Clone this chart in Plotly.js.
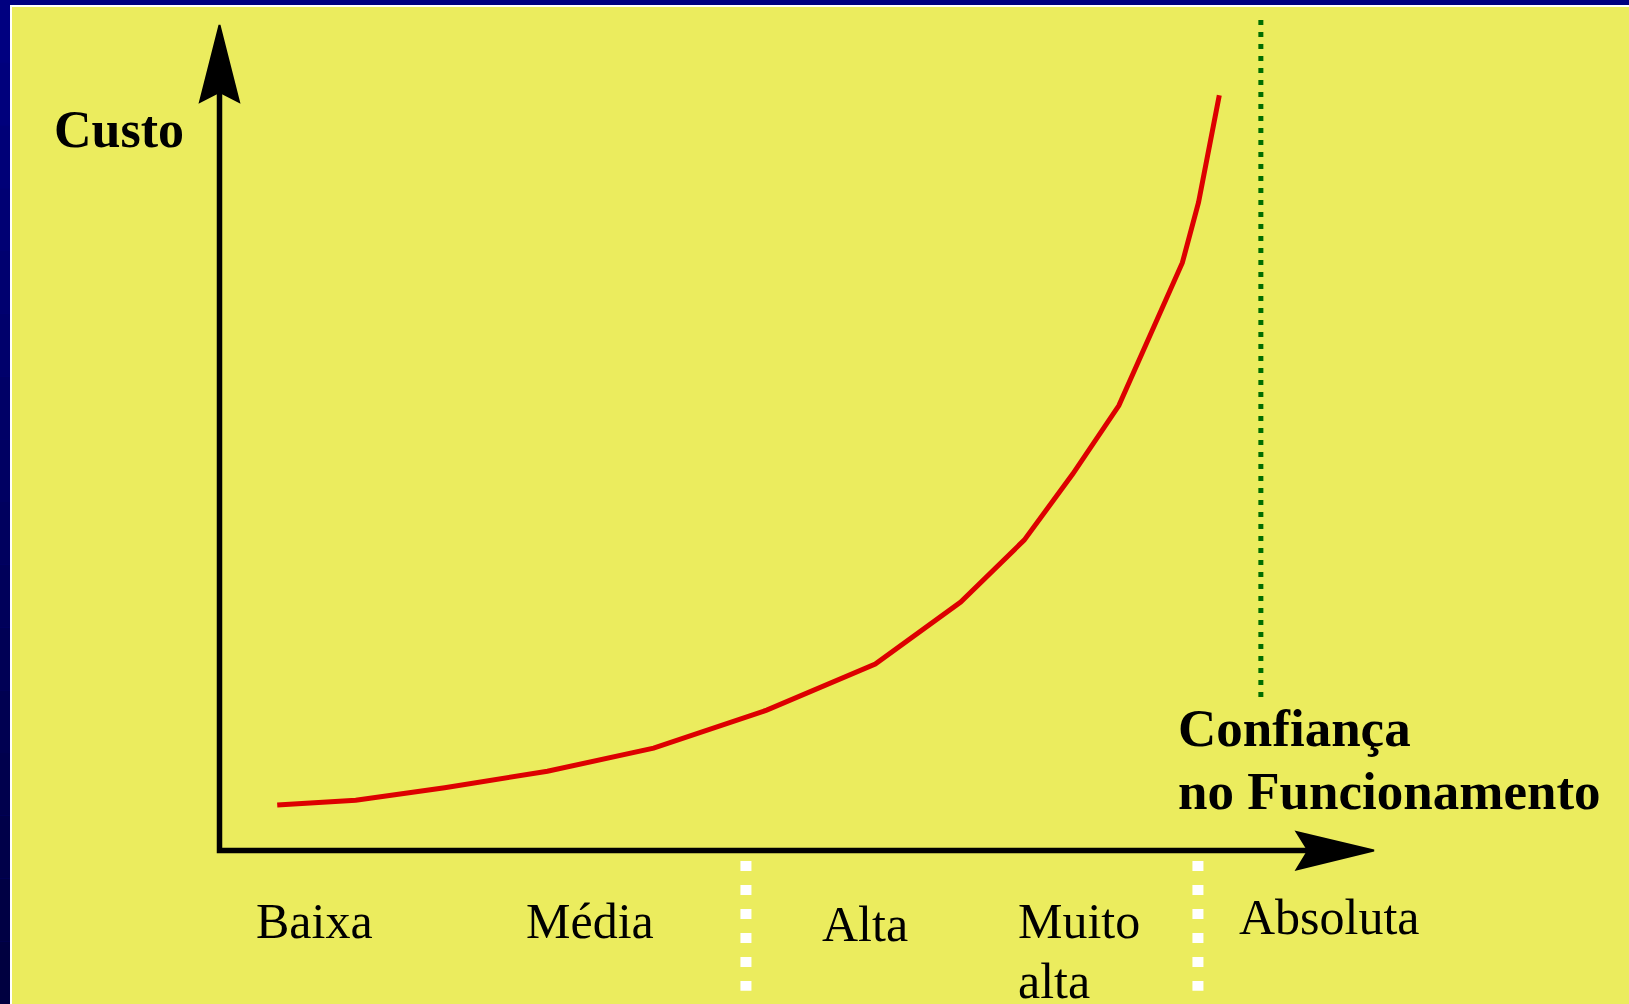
<!DOCTYPE html>
<html>
<head>
<meta charset="utf-8">
<script src="https://cdn.plot.ly/plotly-3.0.1.min.js"></script>
<style>
html,body{margin:0;padding:0;background:#000080;overflow:hidden;}
#chart{width:1629px;height:1004px;}
</style>
</head>
<body>
<div id="chart"></div>
<script>
// ---- data (x: confidence, y: cost; axis origin = 0, arrow tips = 100) ----
const confidence = [5.0, 11.8, 19.5, 28.4, 37.6, 47.4, 56.8, 64.2, 69.7, 73.9, 77.9, 80.7, 83.4, 84.8, 86.6];
const cost       = [5.5, 6.1, 7.6, 9.6, 12.4, 17.0, 22.6, 30.1, 37.6, 45.6, 53.9, 62.7, 71.2, 78.5, 91.5];
const categories = ['Baixa', 'Média', 'Alta', 'Muito alta', 'Absoluta'];
const categoryStart = [3.0, 26.4, 52.0, 69.0, 88.1];     // left edge of each category label
const categoryBounds = [45.6, 84.75];                     // white dividers between groups
const limitConfidence = 90.2;                              // green dotted limit
const yTitle = 'Custo';
const xTitleLines = ['Confiança', 'no Funcionamento'];

// ---- layout helpers ----
const W = 1629, H = 1004;
const X0PX = 219.5, Y0PX = 850.5, XU = 11.545, YU = 8.255;
const xr = [-X0PX / XU, (W - X0PX) / XU];
const yr = [-(H - Y0PX) / YU, Y0PX / YU];
const serif = 'Liberation Serif, Times New Roman, serif';
const YELLOW = '#EBEC5E';

const shapes = [];
// frame: white line then yellow panel; left strip with darkening gradient
const bands = 16;
for (let i = 0; i < bands; i++) {
  const t = i / (bands - 1);
  const b = Math.round(128 - 64 * t);
  shapes.push({type:'rect', xref:'paper', yref:'paper', layer:'below',
    x0:0, x1:10/W, y0:1 - (i+1)/bands, y1:1 - i/bands,
    fillcolor:'rgb(0,0,' + b + ')', line:{width:0}});
}
shapes.push({type:'rect', xref:'paper', yref:'paper', layer:'below',
  x0:10/W, x1:1, y0:0, y1:1 - 5/H, fillcolor:'#ffffff', line:{width:0}});
shapes.push({type:'rect', xref:'paper', yref:'paper', layer:'below',
  x0:12/W, x1:1, y0:0, y1:1 - 7/H, fillcolor:YELLOW, line:{width:0}});

// axes (L-shaped line) and notched arrowheads
shapes.push({type:'path', xref:'x', yref:'y', layer:'below',
  path:'M 0,91.9 L 0,0 L 94.3,0', line:{color:'#000', width:5.5}});
shapes.push({type:'path', xref:'x', yref:'y', layer:'below',
  path:'M 0,100 L 1.69,90.7 L 0,91.9 L -1.69,90.7 Z',
  fillcolor:'#000', line:{color:'#000', width:2}});
shapes.push({type:'path', xref:'x', yref:'y', layer:'below',
  path:'M 100,0 L 93.3,2.24 L 94.3,0 L 93.3,-2.3 Z',
  fillcolor:'#000', line:{color:'#000', width:2}});

// green dotted limit
shapes.push({type:'line', xref:'x', yref:'y', layer:'below',
  x0:limitConfidence, x1:limitConfidence, y0:100.6, y1:18.6,
  line:{color:'#006e00', width:5, dash:'5px,7px'}});
// white dividers below the x axis
categoryBounds.forEach(b => shapes.push({type:'line', xref:'x', yref:'y', layer:'below',
  x0:b, x1:b, y0:-1.27, y1:-17.0, line:{color:'#ffffff', width:11, dash:'10px,14px'}}));

const annotations = [];
annotations.push({xref:'x', yref:'y', x:-14.5, y:87.3, xanchor:'left', yanchor:'middle',
  text:'<b>' + yTitle + '</b>', showarrow:false, font:{family:serif, size:52, color:'#000'}});
xTitleLines.forEach((t, i) => annotations.push({xref:'x', yref:'y', x:82.85, y:14.8 - i*7.6,
  xanchor:'left', yanchor:'middle', text:'<b>' + t + '</b>', showarrow:false,
  font:{family:serif, size:53, color:'#000'}}));
const catBaseY = [-8.5, -8.5, -8.85, -8.6, -8.0];
categories.forEach((c, i) => {
  c.split(' ').forEach((w, j) => annotations.push({xref:'x', yref:'y',
    x:categoryStart[i], y:catBaseY[i] - j*7.15, xanchor:'left', yanchor:'middle',
    text:w, showarrow:false, font:{family:serif, size:50, color:'#000'}}));
});

const traces = [{
  type:'scatter', mode:'lines', x:confidence, y:cost,
  line:{color:'#dd0000', width:5}, hoverinfo:'skip'
}];

const layout = {
  width:W, height:H, margin:{l:0, r:0, t:0, b:0, pad:0},
  paper_bgcolor:'#000080', plot_bgcolor:'rgba(0,0,0,0)',
  showlegend:false,
  xaxis:{range:xr, visible:false, fixedrange:true},
  yaxis:{range:yr, visible:false, fixedrange:true},
  shapes:shapes, annotations:annotations
};
Plotly.newPlot('chart', traces, layout, {staticPlot:true, displayModeBar:false});
</script>
</body>
</html>
